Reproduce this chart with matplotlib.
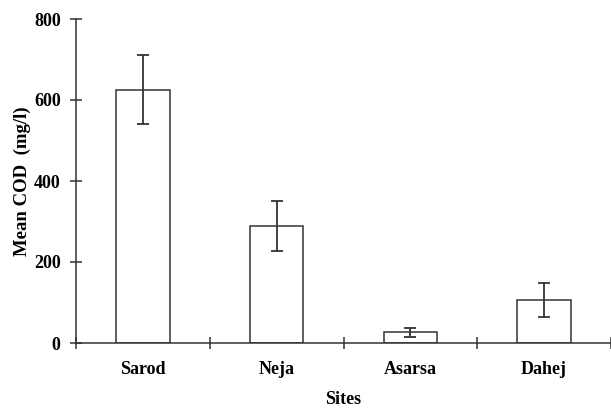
import numpy as np
import matplotlib.pyplot as plt

sites = ['Sarod', 'Neja', 'Asarsa', 'Dahej']
mean_cod = [625, 288, 27, 107]
cod_err = [85, 62, 11, 42]

plt.rcParams['font.family'] = ['Liberation Serif', 'DejaVu Serif']
plt.rcParams['font.weight'] = 'bold'

line_col = '#333333'

fig = plt.figure(figsize=(6.11, 4.08), dpi=100)
ax = fig.add_axes([76 / 611, 65 / 408, 1 - 76 / 611, (343 - 19) / 408])

x = np.arange(len(sites))
ax.bar(x, mean_cod, width=0.4, color='white', edgecolor=line_col, linewidth=1.1,
       yerr=cod_err, error_kw=dict(ecolor=line_col, elinewidth=1.3, capsize=4, capthick=1.3))

ax.set_xlim(-0.5, 3.5)
ax.set_ylim(0, 800)
ax.set_yticks([0, 200, 400, 600, 800])
ax.set_xticks(np.arange(-0.5, 3.6, 1.0))
ax.set_xticklabels([])
ax.set_xticks(x, minor=True)
ax.set_xticklabels(sites, minor=True)
ax.tick_params(axis='x', which='minor', length=0, pad=13, labelsize=13)
ax.tick_params(axis='x', which='major', direction='inout', length=9, width=1.1, color=line_col)
ax.tick_params(axis='y', direction='inout', length=8, width=1.1, color=line_col, labelsize=13, pad=7)

for side in ['top', 'right']:
    ax.spines[side].set_visible(False)
for side in ['left', 'bottom']:
    ax.spines[side].set_color(line_col)
    ax.spines[side].set_linewidth(1.1)

ax.set_xlabel('Sites', fontsize=13, fontweight='bold', labelpad=9)
ax.set_ylabel('Mean COD  (mg/l)', fontsize=13.5, fontweight='bold', labelpad=2)

fig.savefig('out.png', dpi=100)
